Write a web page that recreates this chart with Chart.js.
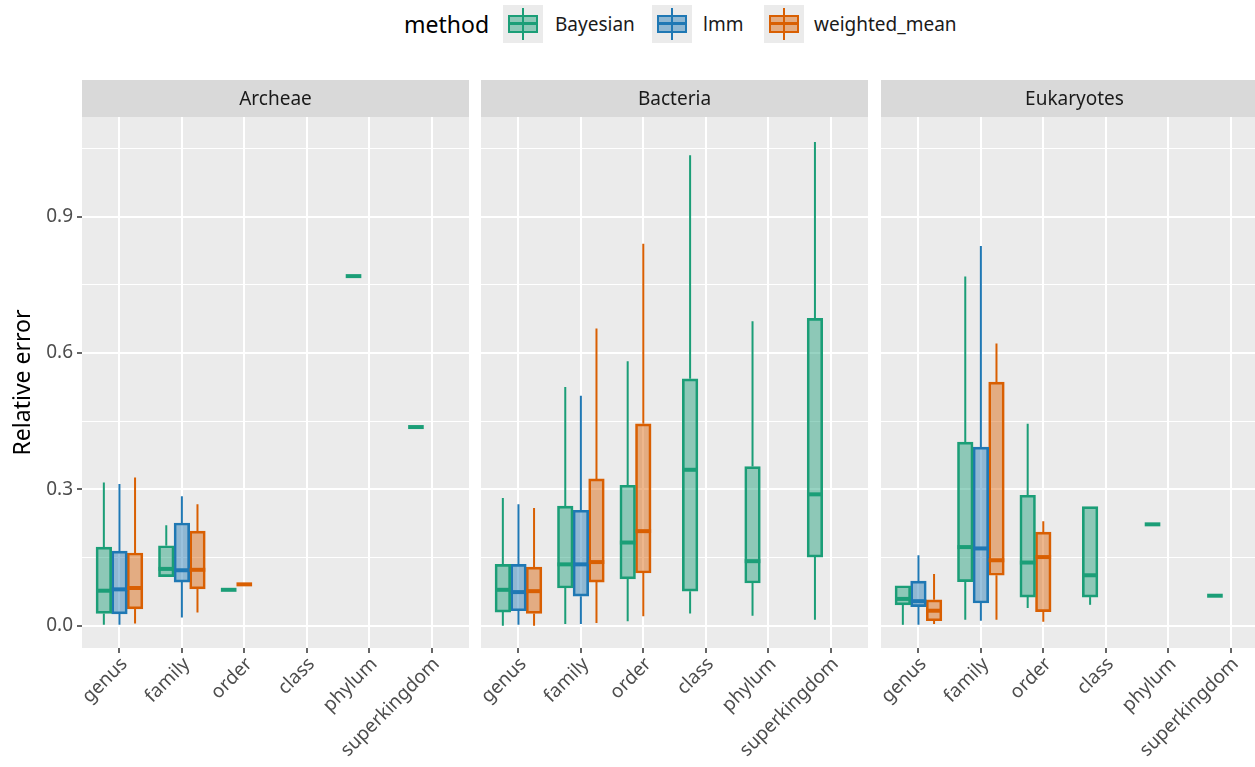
<!DOCTYPE html>
<html>
<head>
<meta charset="utf-8">
<title>Relative error by taxonomic rank</title>
<script src="https://cdn.jsdelivr.net/npm/chart.js@4.4.1/dist/chart.umd.min.js"></script>
<style>
  html, body { margin: 0; padding: 0; background: #ffffff; overflow: hidden; }
  #fig { position: relative; width: 1255px; height: 767px; overflow: hidden; background: #ffffff;
         font-family: "Noto Sans", sans-serif; }
  .facet { position: absolute; top: 0; }
  .lg-title { position: absolute; left: 404px; top: 6px; font-size: 23px; line-height: 36px; color: #000; }
  .lg-text { position: absolute; top: 8px; font-size: 19px; line-height: 32px; color: #1a1a1a; }
  .key { position: absolute; top: 5px; width: 40px; height: 38px; background: #ebebeb; }
  .key .wh { position: absolute; left: 19px; width: 2px; top: 3px; bottom: 3px; }
  .key .bx { position: absolute; left: 5px; width: 30px; top: 10px; height: 18px; box-sizing: border-box; border: 2px solid; }
  .key .md { position: absolute; left: 0; right: 0; top: 5px; height: 3px; }
</style>
</head>
<body>
<div id="fig">
  <div class="lg-title">method</div>
  <div id="legend"></div>
  <canvas id="p0" class="facet" width="481" height="767" style="left:0px"></canvas>
  <canvas id="p1" class="facet" width="410" height="767" style="left:470px"></canvas>
  <canvas id="p2" class="facet" width="410" height="767" style="left:870px"></canvas>
</div>
<script>
// Taxonomic ranks on the x axis and the three estimation methods
const categories = ['genus', 'family', 'order', 'class', 'phylum', 'superkingdom'];
const methods = ['Bayesian', 'lmm', 'weighted_mean'];
const methodColors = ['#1b9e77', '#1f78b4', '#d95f02'];
const majorTicks = [0, 0.3, 0.6, 0.9];
const minorTicks = [0.15, 0.45, 0.75, 1.05];

// Box statistics per rank: [lower whisker, Q1, median, Q3, upper whisker]; null = no data
const archeaeBayesian = [
  [0.002, 0.027, 0.077, 0.173, 0.315],
  [0.108, 0.108, 0.125, 0.176, 0.221],
  [0.079, 0.079, 0.079, 0.079, 0.079],
  null,
  [0.769, 0.769, 0.769, 0.769, 0.769],
  [0.437, 0.437, 0.437, 0.437, 0.437]
];
const archeaeLmm = [
  [0.002, 0.026, 0.080, 0.164, 0.312],
  [0.018, 0.096, 0.122, 0.226, 0.285],
  null, null, null, null
];
const archeaeWeighted = [
  [0.005, 0.037, 0.083, 0.160, 0.326],
  [0.029, 0.081, 0.123, 0.208, 0.267],
  [0.091, 0.091, 0.091, 0.091, 0.091],
  null, null, null
];

const bacteriaBayesian = [
  [0.000, 0.030, 0.079, 0.135, 0.281],
  [0.004, 0.083, 0.135, 0.263, 0.525],
  [0.010, 0.103, 0.183, 0.309, 0.582],
  [0.027, 0.076, 0.343, 0.543, 1.035],
  [0.022, 0.094, 0.142, 0.350, 0.670],
  [0.013, 0.151, 0.289, 0.676, 1.064]
];
const bacteriaLmm = [
  [0.002, 0.033, 0.074, 0.135, 0.267],
  [0.004, 0.065, 0.135, 0.254, 0.506],
  null, null, null, null
];
const bacteriaWeighted = [
  [0.000, 0.027, 0.076, 0.129, 0.259],
  [0.006, 0.096, 0.140, 0.323, 0.654],
  [0.021, 0.116, 0.208, 0.444, 0.840],
  null, null, null
];

const eukaryotesBayesian = [
  [0.002, 0.046, 0.059, 0.088, 0.088],
  [0.013, 0.097, 0.173, 0.404, 0.768],
  [0.039, 0.063, 0.139, 0.287, 0.444],
  [0.046, 0.063, 0.111, 0.262, 0.262],
  [0.223, 0.223, 0.223, 0.223, 0.223],
  [0.066, 0.066, 0.066, 0.066, 0.066]
];
const eukaryotesLmm = [
  [0.002, 0.042, 0.054, 0.098, 0.155],
  [0.011, 0.050, 0.170, 0.393, 0.835],
  null, null, null, null
];
const eukaryotesWeighted = [
  [0.004, 0.011, 0.033, 0.057, 0.114],
  [0.013, 0.111, 0.144, 0.536, 0.621],
  [0.009, 0.031, 0.151, 0.206, 0.230],
  null, null, null
];

const facets = [
  { name: 'Archeae',    canvas: 'p0', stats: [archeaeBayesian, archeaeLmm, archeaeWeighted] },
  { name: 'Bacteria',   canvas: 'p1', stats: [bacteriaBayesian, bacteriaLmm, bacteriaWeighted] },
  { name: 'Eukaryotes', canvas: 'p2', stats: [eukaryotesBayesian, eukaryotesLmm, eukaryotesWeighted] }
];

Chart.defaults.font.family = '"Noto Sans", sans-serif';
Chart.defaults.animation = false;

function hexToRgba(hex, a) {
  const n = parseInt(hex.slice(1), 16);
  return `rgba(${(n >> 16) & 255}, ${(n >> 8) & 255}, ${n & 255}, ${a})`;
}
const FILL_ALPHA = 0.45;

// Legend keys built as small boxplot glyphs
(function buildLegend() {
  const host = document.getElementById('legend');
  const keyLeft = [503, 652, 764];
  const textLeft = [555, 703, 814];
  methods.forEach((m, i) => {
    const key = document.createElement('div');
    key.className = 'key';
    key.style.left = keyLeft[i] + 'px';
    key.innerHTML = `<div class="wh" style="background:${methodColors[i]}"></div>` +
      `<div class="bx" style="border-color:${methodColors[i]};background:${hexToRgba(methodColors[i], FILL_ALPHA)}">` +
      `<div class="md" style="background:${methodColors[i]}"></div></div>`;
    host.appendChild(key);
    const t = document.createElement('div');
    t.className = 'lg-text';
    t.style.left = textLeft[i] + 'px';
    t.textContent = m;
    host.appendChild(t);
  });
})();

// Dodge like ggplot: boxes present at a rank fill the slots from the left of a 3-slot group
const GROUP_WIDTH = 0.75;
function dodgedX(stats, m, ci) {
  const present = stats.map((s, k) => (s[ci] ? k : -1)).filter(k => k >= 0);
  const idx = present.indexOf(m) + 1;
  return ci + 1 + GROUP_WIDTH * ((idx - 0.5) / methods.length - 0.5);
}

// Panel background and facet strip
const facetFrame = {
  id: 'facetFrame',
  beforeDraw(chart, args, opts) {
    const { ctx, chartArea: a } = chart;
    ctx.save();
    ctx.fillStyle = '#ebebeb';
    ctx.fillRect(a.left, a.top, a.right - a.left, a.bottom - a.top);
    ctx.fillStyle = '#d9d9d9';
    ctx.fillRect(a.left, opts.stripTop, a.right - a.left, a.top - opts.stripTop);
    ctx.fillStyle = '#1a1a1a';
    ctx.font = '19px "Noto Sans", sans-serif';
    ctx.textAlign = 'center';
    ctx.textBaseline = 'middle';
    ctx.fillText(opts.label, (a.left + a.right) / 2, (opts.stripTop + a.top) / 2 + 1);
    ctx.restore();
  }
};

// Whiskers and medians, placed on each box drawn by the bar controller
const boxWhiskers = {
  id: 'boxWhiskers',
  afterDatasetsDraw(chart) {
    const { ctx } = chart;
    const y = chart.scales.y;
    chart.data.datasets.forEach((ds, i) => {
      const meta = chart.getDatasetMeta(i);
      meta.data.forEach((bar, j) => {
        const f = ds.data[j].five;
        const { x, width } = bar.getProps(['x', 'width'], true);
        ctx.save();
        ctx.strokeStyle = ds.borderColor;
        ctx.lineCap = 'butt';
        ctx.lineWidth = 2;
        ctx.beginPath();
        ctx.moveTo(x, y.getPixelForValue(f[0]));
        ctx.lineTo(x, y.getPixelForValue(f[1]));
        ctx.moveTo(x, y.getPixelForValue(f[3]));
        ctx.lineTo(x, y.getPixelForValue(f[4]));
        ctx.stroke();
        const ym = y.getPixelForValue(f[2]);
        ctx.lineWidth = 4;
        ctx.beginPath();
        ctx.moveTo(x - width / 2, ym);
        ctx.lineTo(x + width / 2, ym);
        ctx.stroke();
        ctx.restore();
      });
    });
  }
};

const isMajor = v => majorTicks.some(t => Math.abs(t - v) < 1e-9);

facets.forEach((facet, fi) => {
  const first = fi === 0;
  const datasets = methods.map((name, m) => ({
    type: 'bar',
    label: name,
    data: categories.map((c, ci) => {
      const s = facet.stats[m][ci];
      return s ? { x: dodgedX(facet.stats, m, ci), y: [s[1], s[3]], five: s } : null;
    }).filter(Boolean),
    backgroundColor: hexToRgba(methodColors[m], FILL_ALPHA),
    borderColor: methodColors[m],
    borderWidth: 2,
    borderSkipped: false,
    grouped: false,
    barPercentage: 1,
    categoryPercentage: 1
  }));

  new Chart(document.getElementById(facet.canvas), {
    type: 'bar',
    data: { datasets },
    plugins: [facetFrame, boxWhiskers],
    options: {
      responsive: false,
      animation: false,
      layout: { padding: { top: 117, bottom: 0, left: first ? 0 : 11, right: 12 } },
      plugins: {
        legend: { display: false },
        tooltip: { enabled: false },
        facetFrame: { label: facet.name, stripTop: 80 }
      },
      scales: {
        x: {
          type: 'linear',
          offset: false,
          min: 0.4,
          max: 6.6,
          afterBuildTicks: s => { s.ticks = categories.map((c, i) => ({ value: i + 1 })); },
          afterFit: s => { s.height = 119; s.paddingLeft = 0; s.paddingRight = 0; },
          border: { display: false },
          grid: { offset: false, color: '#ffffff', lineWidth: 2, tickColor: '#333333', tickLength: 5, tickWidth: 1.5 },
          ticks: {
            autoSkip: false,
            minRotation: 45,
            maxRotation: 45,
            padding: 0,
            labelOffset: 5,
            color: '#4d4d4d',
            font: { size: 19 },
            callback: v => categories[Math.round(v) - 1]
          }
        },
        y: {
          type: 'linear',
          min: -0.049,
          max: 1.119,
          afterBuildTicks: s => {
            s.ticks = majorTicks.concat(minorTicks).sort((a, b) => a - b).map(v => ({ value: v }));
          },
          afterFit: s => { s.width = first ? 82 : 0; s.paddingTop = 0; s.paddingBottom = 0; },
          border: { display: false },
          grid: {
            color: '#ffffff',
            lineWidth: ctx => (ctx.tick && isMajor(ctx.tick.value) ? 2 : 1),
            drawTicks: first,
            tickColor: ctx => (ctx.tick && isMajor(ctx.tick.value) ? '#333333' : 'rgba(0,0,0,0)'),
            tickLength: 5,
            tickWidth: 1.5
          },
          ticks: {
            display: first,
            padding: 4,
            color: '#4d4d4d',
            font: { size: 19 },
            callback: v => (isMajor(v) ? v.toFixed(1) : '')
          },
          title: {
            display: first,
            text: 'Relative error',
            color: '#000000',
            font: { size: 23 },
            padding: { top: 10, bottom: 0 }
          }
        }
      }
    }
  });
});
</script>
</body>
</html>
